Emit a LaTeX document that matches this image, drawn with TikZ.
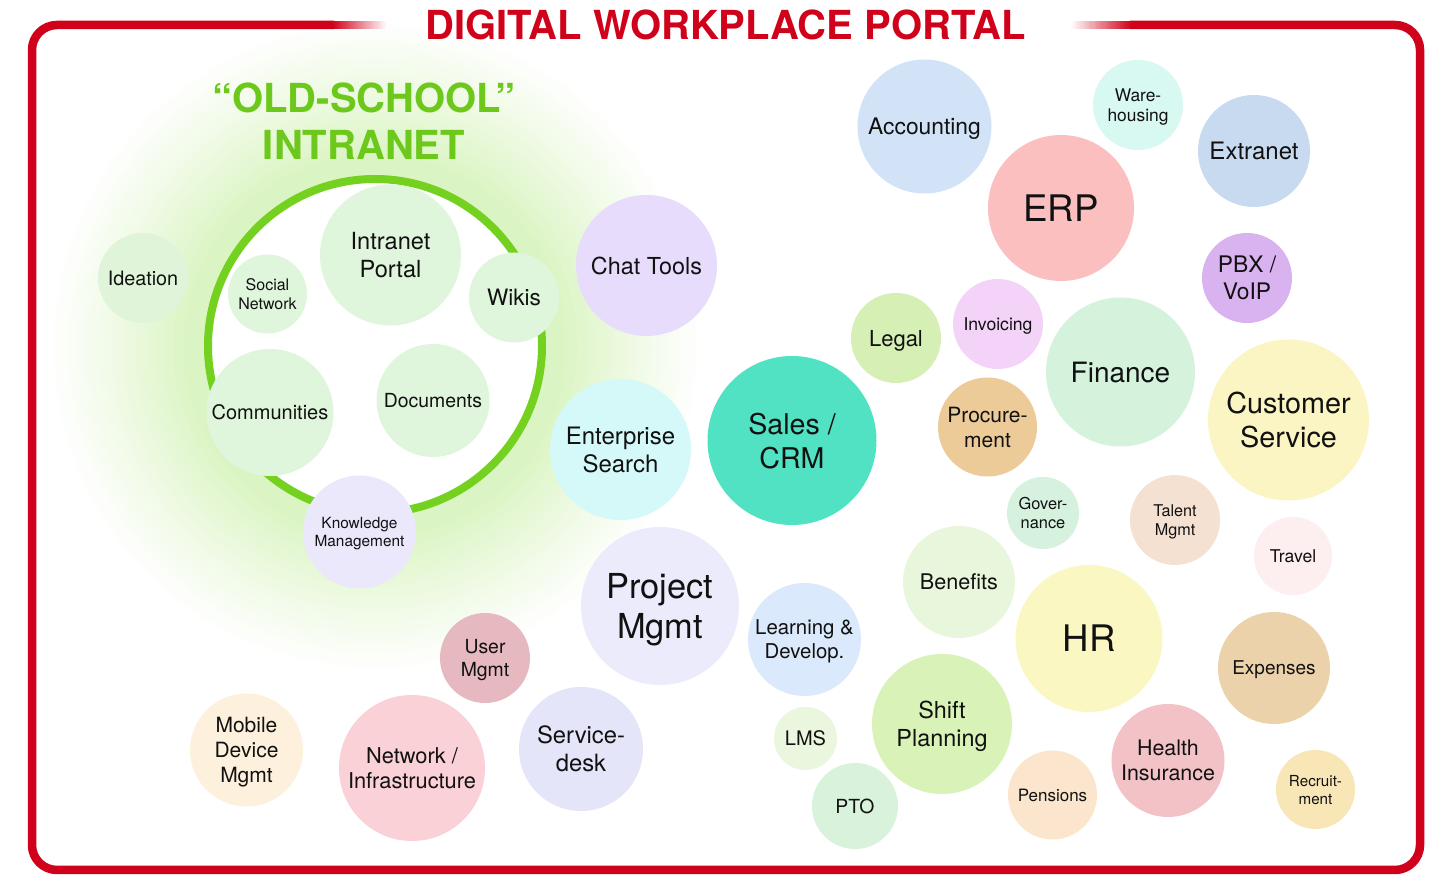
\documentclass[tikz,border=0pt]{standalone}
\usepackage{fontspec}
\setmainfont{TeX Gyre Heros}
\definecolor{ink}{HTML}{111111}
\definecolor{wred}{HTML}{D0021B}
\definecolor{ringg}{HTML}{74D11F}
\definecolor{headg}{HTML}{6CC81A}
\definecolor{glowc}{HTML}{DBF4C3}
\definecolor{cAcc}{HTML}{D2E3F8}
\definecolor{cWare}{HTML}{D8F8F2}
\definecolor{cExtr}{HTML}{C8DAF0}
\definecolor{cERP}{HTML}{FBBFBF}
\definecolor{cPBX}{HTML}{D9B2F0}
\definecolor{cLegal}{HTML}{D6EFB5}
\definecolor{cInv}{HTML}{F3D3F7}
\definecolor{cFin}{HTML}{D5F2DC}
\definecolor{cCust}{HTML}{FAF5C2}
\definecolor{cProc}{HTML}{ECCB98}
\definecolor{cSales}{HTML}{50E2C2}
\definecolor{cChat}{HTML}{E7DCFB}
\definecolor{cEnt}{HTML}{D5F9F8}
\definecolor{cGov}{HTML}{D6F2DE}
\definecolor{cTal}{HTML}{F5E1D1}
\definecolor{cTrav}{HTML}{FDEEF0}
\definecolor{cBen}{HTML}{E8F6DC}
\definecolor{cHR}{HTML}{FBF7C2}
\definecolor{cExp}{HTML}{EBD2AA}
\definecolor{cProj}{HTML}{ECEBFB}
\definecolor{cLearn}{HTML}{DBE9FC}
\definecolor{cShift}{HTML}{D8F2B8}
\definecolor{cLMS}{HTML}{EAF6DE}
\definecolor{cPTO}{HTML}{D8F2DC}
\definecolor{cPens}{HTML}{FBE6CD}
\definecolor{cHealth}{HTML}{F2C2C6}
\definecolor{cRecr}{HTML}{F8E6B6}
\definecolor{cServ}{HTML}{E5E5FA}
\definecolor{cUser}{HTML}{E6B8BF}
\definecolor{cNet}{HTML}{FAD1D6}
\definecolor{cMob}{HTML}{FDF0DC}
\definecolor{cKnow}{HTML}{ECE8FB}
\definecolor{cIdea}{HTML}{DFF4D9}
\definecolor{cIn}{HTML}{E0F6DC}
\newcommand\fsz[1]{\fontsize{#1pt}{#1pt}\selectfont\setlength\baselineskip{1.18\baselineskip}}
\tikzset{
  bub/.style n args={3}{circle, fill=#1, minimum size=#2pt, inner sep=0pt, align=center, text=ink, text depth=0pt, font=\fsz{#3}},
  frame/.style={draw=wred, line width=4.25pt, rounded corners=12.5pt},
}
\begin{document}
\begin{tikzpicture}[x=0.5pt, y=-0.5pt]
\useasboundingbox (0,0) rectangle (1453,886);
\fill[white] (0,0) rectangle (1453,886);
% glow (stepped radial fade)
\foreach \r in {328,325,...,172} {
  \pgfmathsetmacro\t{min(1,(328-\r)/140)}
  \pgfmathsetmacro\p{100*(\t^1.1)}
  \fill[glowc!\p!white] (375,346) circle (\r);
}
% frame
\draw[frame] (334,25) -- (32,25) -- (32,870) -- (1420,870) -- (1420,25) -- (1130,25);
\foreach \k in {0,...,26} {
  \pgfmathsetmacro\p{100*(1-(\k+0.5)/27)}
  \fill[wred!\p!white] (333+\k*2,20.75) rectangle (335.4+\k*2,29.25);
  \fill[wred!\p!white] (1131-\k*2.2,20.75) rectangle (1128.4-\k*2.2,29.25);
}
\node[font=\bfseries\fsz{20}, text=wred] (title) at (725.5,25) {DIGITAL WORKPLACE PORTAL};
% old-school intranet
\node[font=\bfseries\fsz{20}, text=headg, align=center, text depth=0pt] (old) at (364,121) {“OLD-SCHOOL”\\INTRANET};
\node[circle, draw=ringg, fill=white, line width=4pt, minimum size=167pt, inner sep=0pt] (ring) at (375,346) {};
\node[bub={cIn}{70.5}{11.8}] (intra) at (390.5,255) {Intranet\\Portal};
\node[bub={cIn}{39.5}{8}] (social) at (267.5,294) {Social\\Network};
\node[bub={cIn}{45}{11.3}] (wikis) at (514,297.5) {Wikis};
\node[bub={cIn}{63.5}{10}] (comm) at (270,412.5) {Communities};
\node[bub={cIn}{56.5}{9.7}] (docs) at (433,400.5) {Documents};
\node[bub={cKnow}{56.5}{7.7}] (know) at (359.5,532) {Knowledge\\Management};
\node[bub={cIdea}{45}{9.9}] (idea) at (143,278) {Ideation};
% others
\node[bub={cAcc}{67}{11.4}] (acc) at (924.5,126.5) {Accounting};
\node[bub={cWare}{45}{8.7}] (ware) at (1138,105) {Ware-\\housing};
\node[bub={cExtr}{56}{12}] (extr) at (1254,151) {Extranet};
\node[bub={cERP}{73}{18.3}] (erp) at (1061,208) {ERP};
\node[bub={cPBX}{45}{11.4}] (pbx) at (1247,278) {PBX /\\VoIP};
\node[bub={cLegal}{45}{11}] (legal) at (896,338) {Legal};
\node[bub={cInv}{45}{8.8}] (inv) at (998,324) {Invoicing};
\node[bub={cFin}{74.5}{14}] (fin) at (1120.5,372) {Finance};
\node[bub={cCust}{80.5}{14.4}] (cust) at (1288.5,420) {Customer\\Service};
\node[bub={cProc}{49.5}{10.5}] (proc) at (987.5,427) {Procure-\\ment};
\node[bub={cSales}{84.5}{14.3}] (sales) at (792,440.5) {Sales /\\CRM};
\node[bub={cChat}{70.5}{11.7}] (chat) at (646.5,265.5) {Chat Tools};
\node[bub={cEnt}{70.5}{12}] (ent) at (620.5,449.5) {Enterprise\\Search};
\node[bub={cGov}{36}{8.2}] (gov) at (1043,513) {Gover-\\nance};
\node[bub={cTal}{45}{8.1}] (tal) at (1175,520) {Talent\\Mgmt};
\node[bub={cTrav}{39}{8.8}] (trav) at (1293,556) {Travel};
\node[bub={cBen}{56}{10.8}] (ben) at (959,582) {Benefits};
\node[bub={cHR}{73.5}{18.3}] (hr) at (1089,638.5) {HR};
\node[bub={cExp}{56}{9.5}] (exp) at (1274,668) {Expenses};
\node[bub={cProj}{79}{17.2}] (proj) at (660,606) {Project\\Mgmt};
\node[bub={cLearn}{56.5}{10.2}] (learn) at (804.5,639.5) {Learning \&\\Develop.};
\node[bub={cShift}{70}{11.7}] (shift) at (942,724) {Shift\\Planning};
\node[bub={cLMS}{31.5}{10}] (lms) at (805.5,738.5) {LMS};
\node[bub={cPTO}{43}{9.7}] (pto) at (855,806) {PTO};
\node[bub={cPens}{44.5}{8.5}] (pens) at (1052.5,795) {Pensions};
\node[bub={cHealth}{56.5}{10.7}] (health) at (1168,760.5) {Health\\Insurance};
\node[bub={cRecr}{39.5}{7.6}] (recr) at (1315.5,789.5) {Recruit-\\ment};
\node[bub={cServ}{62}{11.9}] (serv) at (581,749) {Service-\\desk};
\node[bub={cUser}{45}{9.7}] (user) at (485,658) {User\\Mgmt};
\node[bub={cNet}{73}{10.9}] (net) at (412,768) {Network /\\Infrastructure};
\node[bub={cMob}{56.5}{10.5}] (mob) at (246.5,750) {Mobile\\Device\\Mgmt};
\end{tikzpicture}
\end{document}
